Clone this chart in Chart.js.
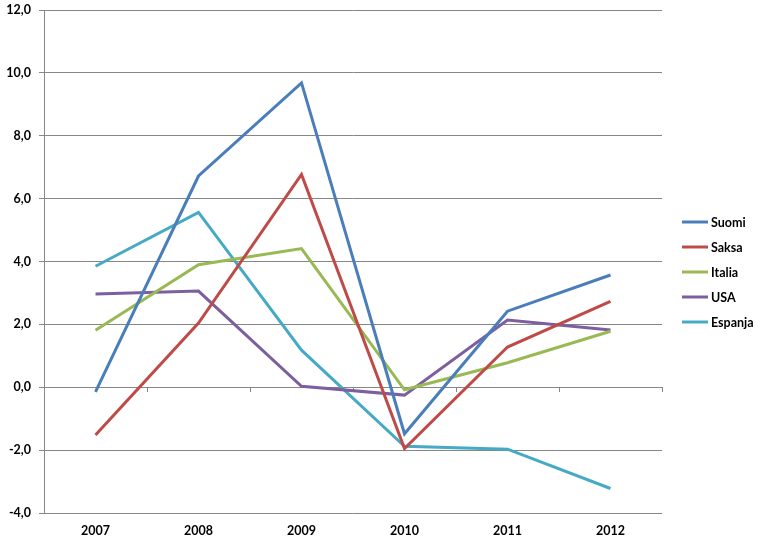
<!DOCTYPE html>
<html>
<head>
<meta charset="utf-8">
<script src="https://cdn.jsdelivr.net/npm/chart.js@4.4.1/dist/chart.umd.min.js"></script>
<style>
  html, body { margin: 0; padding: 0; background: #fff; }
  #wrap { width: 767px; height: 546px; }
</style>
</head>
<body>
<div id="wrap"><canvas id="chart" width="767" height="546"></canvas></div>
<script>
// categories and series
const years = ['2007', '2008', '2009', '2010', '2011', '2012'];
const suomi = [-0.15, 6.72, 9.68, -1.48, 2.42, 3.57];
const saksa = [-1.52, 2.04, 6.77, -1.95, 1.28, 2.73];
const italia = [1.81, 3.90, 4.41, -0.08, 0.78, 1.78];
const usa = [2.97, 3.06, 0.03, -0.25, 2.14, 1.82];
const espanja = [3.85, 5.56, 1.18, -1.88, -1.97, -3.22];

const seriesNames = ['Suomi', 'Saksa', 'Italia', 'USA', 'Espanja'];
const seriesColors = ['#4A7EBB', '#BE4B48', '#98B954', '#7D5FA0', '#46AAC5'];

// y axis ticks
const yMin = -4;
const yMax = 12;
const yStep = 2;

const gridColor = '#868686';
const tickFont = { family: 'Lato', size: 12.5, weight: 'bold' };

const datasets = [suomi, saksa, italia, usa, espanja].map((values, i) => ({
  label: seriesNames[i],
  data: values,
  borderColor: seriesColors[i],
  backgroundColor: seriesColors[i],
  borderWidth: 3,
  pointRadius: 0,
  tension: 0,
  xAxisID: 'x'
}));

// legend on the right, drawn next to the plot area
const sideLegend = {
  id: 'sideLegend',
  afterDraw(chart) {
    const ctx = chart.ctx;
    const area = chart.chartArea;
    const x0 = area.right + 20;
    const top = area.top + 212;
    const step = 25;
    ctx.save();
    ctx.font = 'bold 12.5px Lato';
    ctx.textBaseline = 'middle';
    ctx.textAlign = 'left';
    chart.data.datasets.forEach((ds, i) => {
      const y = top + i * step;
      ctx.strokeStyle = ds.borderColor;
      ctx.lineWidth = 3;
      ctx.beginPath();
      ctx.moveTo(x0, y);
      ctx.lineTo(x0 + 26, y);
      ctx.stroke();
      ctx.fillStyle = '#000';
      ctx.fillText(ds.label, x0 + 29, y + 1);
    });
    ctx.restore();
  }
};

new Chart(document.getElementById('chart'), {
  type: 'line',
  data: { labels: years, datasets: datasets },
  plugins: [sideLegend],
  options: {
    responsive: false,
    animation: false,
    layout: { padding: { top: 10, right: 105, left: 0, bottom: 0 } },
    plugins: {
      legend: { display: false },
      tooltip: { enabled: false }
    },
    scales: {
      x: {
        type: 'category',
        position: 'bottom',
        offset: true,
        grid: { display: false },
        border: { display: false },
        ticks: { color: '#000', font: tickFont, padding: 2, maxRotation: 0 },
        afterFit(scale) { scale.height = 33; }
      },
      xZero: {
        type: 'category',
        position: { y: 0 },
        labels: years,
        offset: true,
        grid: {
          offset: true,
          drawOnChartArea: false,
          drawTicks: true,
          tickLength: 5,
          color: gridColor
        },
        border: { display: false },
        ticks: { display: false },
        afterFit(scale) { scale.height = 0; scale.paddingLeft = 0; scale.paddingRight = 0; }
      },
      y: {
        min: yMin,
        max: yMax,
        grid: { color: gridColor, lineWidth: 1, drawTicks: true, tickLength: 5 },
        border: { display: true, color: gridColor, width: 1 },
        ticks: {
          stepSize: yStep,
          color: '#000',
          font: tickFont,
          padding: 8,
          callback: (v) => v.toFixed(1).replace('.', ',')
        },
        afterFit(scale) { scale.width = 44; scale.paddingTop = 0; scale.paddingBottom = 0; }
      }
    }
  }
});
</script>
</body>
</html>
